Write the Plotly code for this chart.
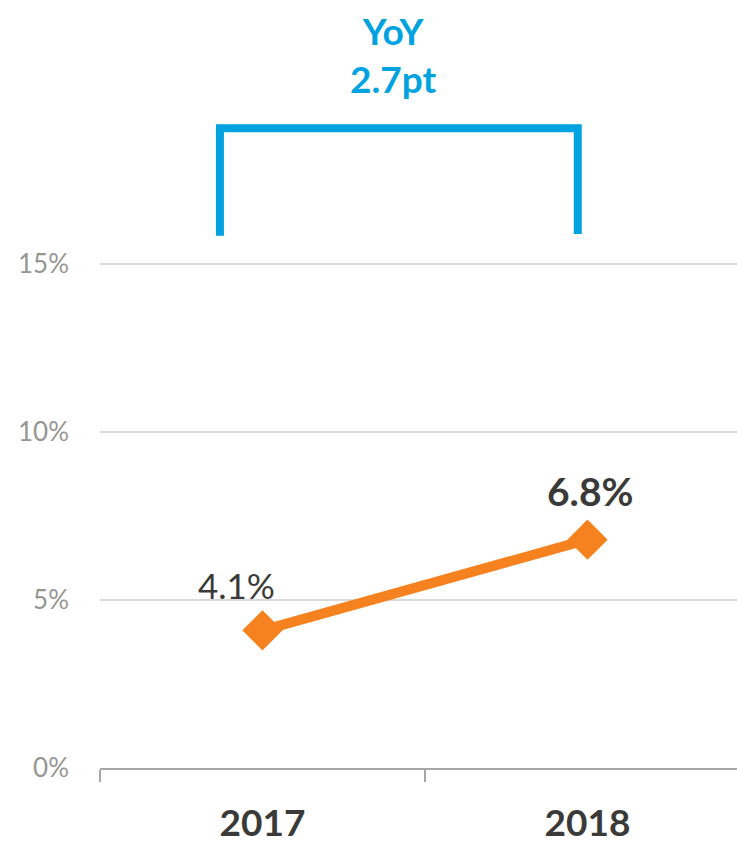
import plotly.graph_objects as go

years = ["2017", "2018"]
values = [4.1, 6.8]
label_bold = [False, True]
y_ticks = [0, 5, 10, 15]
y_tick_labels = ["0%", "5%", "10%", "15%"]
yoy_text = "YoY<br>2.7pt"

ORANGE = "#F5821F"
BLUE = "#00A3E0"
DARK = "#3a3a38"
GRAY = "#969691"
FONT = "Lato"

fig = go.Figure()
fig.add_trace(go.Scatter(
    x=years, y=values, mode="lines+markers",
    line=dict(color=ORANGE, width=10),
    marker=dict(symbol="diamond", size=31, color=ORANGE),
    hoverinfo="skip", showlegend=False,
))

# data labels (x given as category index)
shifts = [(-26, 45), (2, 49)]
for i, (v, b, (dx, dy)) in enumerate(zip(values, label_bold, shifts)):
    txt = f"{v}%"
    fig.add_annotation(
        x=i, y=v, xref="x", yref="y",
        text=f"<b>{txt}</b>" if b else txt, showarrow=False,
        xshift=dx, yshift=dy,
        font=dict(family=FONT, size=39 if b else 35, color=DARK),
    )

# YoY bracket (layout decoration)
fig.add_shape(
    type="path", xref="x", yref="y",
    path="M -0.131,15.85 L -0.131,19.05 L 0.97,19.05 L 0.97,15.9",
    line=dict(color=BLUE, width=8),
)
fig.add_annotation(
    x=0.4, y=21.25, xref="x", yref="y", text=f"<b>{yoy_text}</b>", showarrow=False,
    font=dict(family=FONT, size=37, color=BLUE), align="center",
)

fig.update_layout(
    width=737, height=844,
    margin=dict(l=100, r=0, t=0, b=71),
    paper_bgcolor="white", plot_bgcolor="white",
    font=dict(family=FONT),
    xaxis=dict(
        type="category", range=[-0.5, 1.46], tickson="boundaries",
        ticks="outside", ticklen=12, tickcolor="#a6a6a6", tickwidth=2,
        showline=True, linecolor="#a6a6a6", linewidth=2,
        showgrid=False, zeroline=False,
        tickfont=dict(family=FONT, size=37, color=DARK),
        tickvals=years, ticktext=[f"<b>{y}</b>" for y in years],
        ticklabelstandoff=22,
    ),
    yaxis=dict(
        range=[0, 22.87], tickvals=y_ticks, ticktext=y_tick_labels,
        showgrid=True, gridcolor="#d9d9d9", gridwidth=2,
        zeroline=False, showline=False,
        tickfont=dict(family=FONT, size=26, color=GRAY),
        ticklabelstandoff=30,
    ),
)

fig.write_html(
    "out.html",
    config={"displayModeBar": False},
    post_script="document.body.style.margin='0';document.body.style.overflow='hidden';",
)
